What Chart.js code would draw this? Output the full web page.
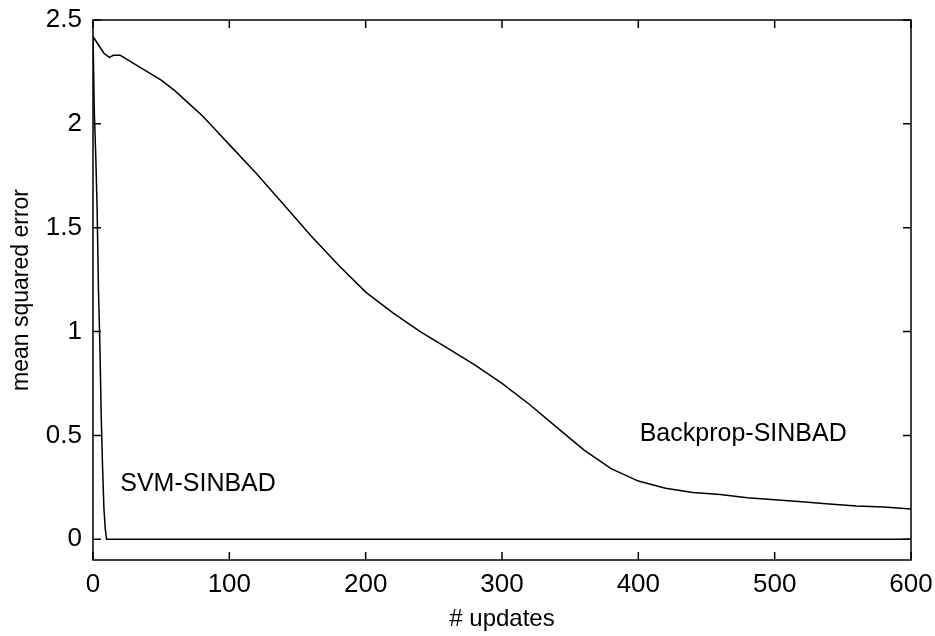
<!DOCTYPE html>
<html>
<head>
<meta charset="utf-8">
<script src="https://cdn.jsdelivr.net/npm/chart.js@4"></script>
<style>
  body { margin: 0; background: #fff; }
</style>
</head>
<body>
<canvas id="myChart" width="935" height="636"></canvas>
<script>
// values
const backpropX = [0, 2, 5, 8, 12, 15, 20, 25, 30, 40, 50, 60, 70, 80, 90, 100, 120, 140, 160, 180, 200, 220, 240, 260, 280, 300, 320, 340, 360, 380, 400, 420, 440, 460, 480, 500, 520, 540, 560, 580, 600];
const backpropY = [2.42, 2.40, 2.37, 2.34, 2.32, 2.33, 2.33, 2.31, 2.29, 2.25, 2.21, 2.16, 2.10, 2.04, 1.97, 1.90, 1.76, 1.61, 1.46, 1.32, 1.19, 1.09, 1.00, 0.92, 0.84, 0.75, 0.65, 0.54, 0.43, 0.34, 0.28, 0.245, 0.225, 0.215, 0.20, 0.19, 0.18, 0.17, 0.16, 0.155, 0.145];

const svmX = [0, 1, 2, 3, 4, 5, 6, 7, 8, 9, 10, 600];
const svmY = [2.42, 2.05, 1.85, 1.6, 1.2, 0.95, 0.6, 0.35, 0.15, 0.05, 0, 0];

const xTicks = [0, 100, 200, 300, 400, 500, 600];
const yTicks = [0, 0.5, 1, 1.5, 2, 2.5];

const notes = [
    { text: 'Backprop-SINBAD', x: 401, y: 0.505 },
    { text: 'SVM-SINBAD', x: 20, y: 0.264 }
];

const font = '"Liberation Sans", Arial, sans-serif';

const toPoints = (xs, ys) => xs.map((x, i) => ({ x: x, y: ys[i] }));

// matlab-ish box with inward ticks, plus the text labels
const boxPlugin = {
    id: 'box',
    afterDatasetsDraw(chart) {
        const ctx = chart.ctx;
        const a = chart.chartArea;
        const xs = chart.scales.x;
        const ys = chart.scales.y;
        const len = 8;
        ctx.save();
        ctx.strokeStyle = '#000';
        ctx.lineWidth = 1.5;
        ctx.strokeRect(a.left, a.top, a.right - a.left, a.bottom - a.top);
        ctx.beginPath();
        xTicks.forEach(v => {
            const px = xs.getPixelForValue(v);
            ctx.moveTo(px, a.bottom); ctx.lineTo(px, a.bottom - len);
            ctx.moveTo(px, a.top); ctx.lineTo(px, a.top + len);
        });
        yTicks.forEach(v => {
            const py = ys.getPixelForValue(v);
            ctx.moveTo(a.left, py); ctx.lineTo(a.left + len, py);
            ctx.moveTo(a.right, py); ctx.lineTo(a.right - len, py);
        });
        ctx.stroke();

        ctx.fillStyle = '#000';
        ctx.font = '25px ' + font;
        ctx.textAlign = 'left';
        ctx.textBaseline = 'middle';
        notes.forEach(n => {
            ctx.fillText(n.text, xs.getPixelForValue(n.x), ys.getPixelForValue(n.y));
        });
        ctx.restore();
    }
};

const ctx = document.getElementById('myChart');

const myChart = new Chart(ctx, {
    type: 'line',
    data: {
        datasets: [{
            label: 'Backprop-SINBAD',
            data: toPoints(backpropX, backpropY),
            borderColor: '#000',
            borderWidth: 1.5,
            pointRadius: 0,
            tension: 0
        }, {
            label: 'SVM-SINBAD',
            data: toPoints(svmX, svmY),
            borderColor: '#000',
            borderWidth: 1.5,
            pointRadius: 0,
            tension: 0
        }]
    },
    options: {
        responsive: false,
        animation: false,
        layout: { padding: { top: 20, right: 24, left: 0, bottom: 0 } },
        plugins: {
            legend: { display: false },
            tooltip: { enabled: false }
        },
        scales: {
            x: {
                type: 'linear',
                min: 0,
                max: 600,
                afterBuildTicks: s => { s.ticks = xTicks.map(v => ({ value: v })); },
                afterFit: s => {
                    s.height = 76;
                    s.paddingLeft = 0;
                    s.paddingRight = 0;
                },
                grid: { display: false, drawTicks: false },
                border: { display: false },
                ticks: {
                    color: '#000',
                    padding: 9,
                    maxRotation: 0,
                    font: { family: font, size: 26 },
                    callback: v => String(v)
                },
                title: {
                    display: true,
                    text: '# updates',
                    color: '#000',
                    font: { family: font, size: 24 },
                    padding: { top: 0, bottom: 2 }
                }
            },
            y: {
                type: 'linear',
                min: -0.1,
                max: 2.5,
                afterBuildTicks: s => { s.ticks = yTicks.map(v => ({ value: v })); },
                afterFit: s => {
                    s.width = 93;
                    s.paddingTop = 0;
                    s.paddingBottom = 0;
                },
                grid: { display: false, drawTicks: false },
                border: { display: false },
                ticks: {
                    color: '#000',
                    padding: 11,
                    font: { family: font, size: 26 },
                    callback: v => String(v)
                },
                title: {
                    display: true,
                    text: 'mean squared error',
                    color: '#000',
                    font: { family: font, size: 23 },
                    padding: { top: 8, bottom: 0 }
                }
            }
        }
    },
    plugins: [boxPlugin]
});
</script>
</body>
</html>
